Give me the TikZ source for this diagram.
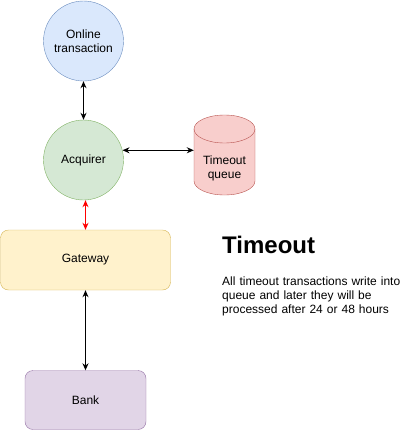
\documentclass[tikz,border=0pt]{standalone}
\usepackage{fontspec}
\setmainfont{Liberation Sans}
\usetikzlibrary{arrows.meta}
\definecolor{blueF}{HTML}{DAE8FC}\definecolor{blueD}{HTML}{6C8EBF}
\definecolor{greenF}{HTML}{D5E8D4}\definecolor{greenD}{HTML}{82B366}
\definecolor{redF}{HTML}{F8CECC}\definecolor{redD}{HTML}{B85450}
\definecolor{yellowF}{HTML}{FFF2CC}\definecolor{yellowD}{HTML}{D6B656}
\definecolor{purpleF}{HTML}{E1D5E7}\definecolor{purpleD}{HTML}{9673A6}
\tikzset{
  lbl/.style={font=\fontsize{12}{14}\selectfont,align=center},
  station/.style={circle,minimum size=80pt,inner sep=0pt,lbl},
  panel/.style={rectangle,rounded corners=8pt,inner sep=0pt,lbl},
  link/.style={line width=1pt,{Stealth[length=7pt,width=6pt]}-{Stealth[length=7pt,width=6pt]}},
}
\begin{document}
\begin{tikzpicture}[x=1pt,y=-1pt]
\useasboundingbox (0,0) rectangle (407,431);
%
\node[station,draw=blueD,fill=blueF] (online) at (83.5,41) {Online\\transaction};
\node[station,draw=greenD,fill=greenF] (acq) at (83.5,160) {Acquirer};
%
\node[panel,draw=yellowD,fill=yellowF,minimum width=170pt,minimum height=60pt] (gw) at (85.5,260) {Gateway};
\node[panel,draw=purpleD,fill=purpleF,minimum width=121pt,minimum height=59pt] (bank) at (85.5,400) {Bank};
%
\node[minimum width=61pt,minimum height=80pt,inner sep=0pt] (queue) at (224.5,155) {};
\filldraw[draw=redD,fill=redF] (194,129) -- (194,181)
  arc[start angle=180,end angle=360,x radius=30.5pt,y radius=14pt] -- (255,129)
  arc[start angle=0,end angle=180,x radius=30.5pt,y radius=14pt] -- cycle;
\draw[redD] (194,129) arc[start angle=180,end angle=360,x radius=30.5pt,y radius=14pt];
\node[lbl] at (224.5,168) {Timeout\\queue};
%
\draw[link] (online) -- (acq);
\draw[link] (acq.14) -- (acq.14 -| queue.west);
\draw[link,red] (gw.north |- acq.south) -- (gw.north);
\draw[link] (gw) -- (bank);
%
\node[anchor=base west,inner sep=0pt,font=\fontsize{24}{28}\selectfont\bfseries] (title) at (222,253) {Timeout};
\node[anchor=base west,inner sep=0pt,text width=180pt,align=left,font=\fontsize{12}{14}\selectfont] (note) at (222,285)
  {All timeout transactions write into\\queue and later they will be\\processed after 24 or 48 hours};
\end{tikzpicture}
\end{document}
